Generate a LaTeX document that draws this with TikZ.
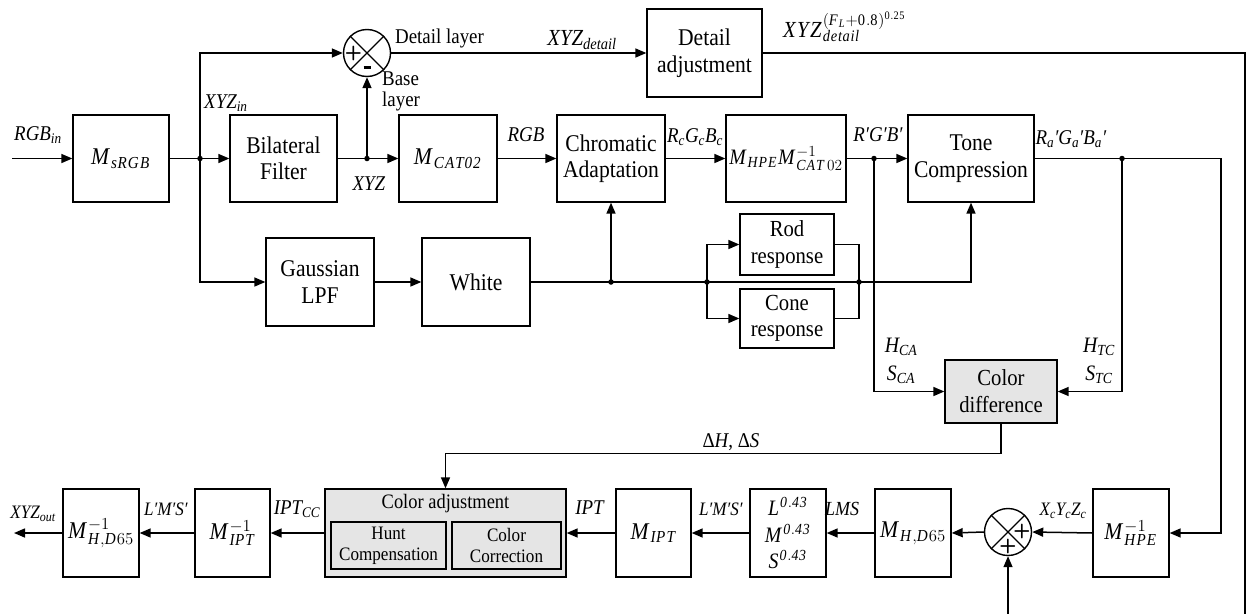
\RequirePackage{fix-cm}
\documentclass[tikz,border=0pt]{standalone}
\usepackage{fontspec}
\setmainfont{Liberation Serif}[FakeStretch=0.9]
\usetikzlibrary{arrows.meta,calc}
\newcommand{\fs}[2]{\fontsize{#1}{#2}\selectfont}
\newcommand{\mi}[1]{\mathit{#1}}
\begin{document}
\begin{tikzpicture}[x=1pt,y=-1pt,
 blk/.style={draw,line width=1.3pt,inner sep=0pt,align=center,font=\fs{24}{26.5}},
 arr/.style={line width=1.5pt,-{Triangle[length=11pt,width=9pt]}},
 ln/.style={line width=1.5pt},
 jdot/.style={circle,fill,inner sep=0pt,minimum size=5.5pt},
 lab/.style={inner sep=0pt,font=\fs{21}{24}},
 sumc/.style={circle,draw,line width=1.4pt,minimum size=47pt,inner sep=0pt},
 sgn/.style={inner sep=0pt,font=\sffamily\bfseries\fs{20}{20}},
]
\useasboundingbox (0,0) rectangle (1246,613);

% ---------- top row ----------
\node[blk,minimum width=96pt,minimum height=87pt] (msrgb) at (121,158.5) {$\mi{M}_{\mi{sRGB}}$};
\node[blk,minimum width=107pt,minimum height=87pt] (bil) at (283.5,158.5) {Bilateral\\Filter};
\node[blk,minimum width=98pt,minimum height=87pt] (mcat) at (448,158.5) {$\mi{M}_{\mi{CAT02}}$};
\node[blk,minimum width=108pt,minimum height=87pt] (chrom) at (611,158.5) {Chromatic\\Adaptation};
\node[blk,minimum width=120pt,minimum height=87pt] (mhpe) at (786,158.5) {\fs{22}{24}$\mi{M}_{\mi{HPE}}\mi{M}^{-1}_{\mi{CAT}\,02}$};
\node[blk,minimum width=126pt,minimum height=87pt] (tone) at (971,158.5) {Tone\\Compression};
\node[blk,minimum width=115pt,minimum height=88pt] (detail) at (704.5,53) {Detail\\adjustment};

\node[sumc] (s1) at (367,53) {};
\draw[line width=1.3pt] (s1.north west) -- (s1.south east) (s1.north east) -- (s1.south west);
\node[sgn] (s1p) at (353.5,53) {+};
\node[inner sep=0pt] (s1m) at (367,67.5) {\rule{7pt}{2.6pt}};

% ---------- middle row ----------
\node[blk,minimum width=108pt,minimum height=88pt] (gauss) at (320,282) {Gaussian\\LPF};
\node[blk,minimum width=108pt,minimum height=88pt] (white) at (476,282) {White};
\node[blk,minimum width=94pt,minimum height=61pt,font=\fs{23}{26.5}] (rod) at (787,244.5) {Rod\\response};
\node[blk,minimum width=94pt,minimum height=59pt,font=\fs{23}{26.5}] (cone) at (787,318.5) {Cone\\response};
\node[blk,minimum width=112pt,minimum height=63pt,fill=black!10,font=\fs{23}{27}] (cdiff) at (1001,391.5) {Color\\difference};

% ---------- bottom row ----------
\node[blk,minimum width=76pt,minimum height=88pt] (hpeinv) at (1131,533) {$\mi{M}^{-1}_{\mi{HPE}}$};
\node[sumc] (s2) at (1008,532) {};
\draw[line width=1.3pt] (s2.north west) -- (s2.south east) (s2.north east) -- (s2.south west);
\node[sgn] (s2p) at (1022,531) {+};
\node[sgn] (s2q) at (1008,546.5) {+};
\node[blk,minimum width=76pt,minimum height=88pt] (mhd) at (913,533) {$\mi{M}_{\mi{H},\mi{D}65}$};
\node[blk,minimum width=76pt,minimum height=88pt,font=\fs{22}{26.5}] (lms) at (788,533) {$\mi{L}^{\mi{0.43}}$\\$\mi{M}^{\mi{0.43}}$\\$\mi{S}^{\mi{0.43}}$};
\node[blk,minimum width=75pt,minimum height=88pt] (mipt) at (653.5,533) {$\mi{M}_{\mi{IPT}}$};
\node[blk,minimum width=241pt,minimum height=88pt,fill=black!10] (cadj) at (445.5,533) {};
\node[inner sep=0pt,font=\fs{20.5}{22}] (cadjt) at (445.5,504) {Color adjustment};
\node[blk,minimum width=115pt,minimum height=47pt,fill=black!10,font=\fs{19}{21}] (hunt) at (388.5,545.5) {Hunt\\Compensation};
\node[blk,minimum width=109pt,minimum height=47pt,fill=black!10,font=\fs{19}{21}] (ccor) at (506.5,545.5) {Color\\Correction};
\node[blk,minimum width=75pt,minimum height=88pt] (miptinv) at (232.5,533) {$\mi{M}^{-1}_{\mi{IPT}}$};
\node[blk,minimum width=76pt,minimum height=88pt] (mhinv) at (101,533) {$\mi{M}^{-1}_{\mi{H},\mi{D}65}$};

% ---------- junctions & free ends ----------
\coordinate (inp) at (12,158.5);
\coordinate (outp) at (14,533);
\node[jdot] (j1) at (200,158.5) {};
\node[jdot] (j2) at (367,158.5) {};
\node[jdot] (j3) at (611,282) {};
\node[jdot] (j4) at (707,282) {};
\node[jdot] (j5) at (859,282) {};
\node[jdot] (j6) at (874,158.5) {};
\node[jdot] (j7) at (1122,158.5) {};
\coordinate (rc) at (1221,158.5);
\coordinate (br) at (1245,622);

% ---------- connectors ----------
\draw[arr] (inp) -- (msrgb.west);
\draw[arr] (msrgb.east) -- (bil.west);
\draw[arr] (j1.center) |- (s1.west);
\draw[arr] (j1.center) |- (gauss.west);
\draw[arr] (bil.east) -- (mcat.west);
\draw[arr] (j2.center) -- (s1.south);
\draw[arr] (mcat.east) -- (chrom.west);
\draw[arr] (chrom.east) -- (mhpe.west);
\draw[arr] (mhpe.east) -- (tone.west);
\draw[arr] (s1.east) -- (detail.west);
\draw[arr] (detail.east) -| (br) -| (s2.south);
\draw[arr] (gauss.east) -- (white.west);
\draw[ln] (white.east) -- (j5.center);
\draw[arr] (j3.center) -- (chrom.south);
\draw[arr] (j4.center) |- (rod.west);
\draw[arr] (j4.center) |- (cone.west);
\draw[ln] (rod.east) -| (j5.center) |- (cone.east);
\draw[arr] (j5.center) -| (tone.south);
\draw[arr] (tone.east) -- (rc) |- (hpeinv.east);
\draw[arr] (j6.center) |- (cdiff.west);
\draw[arr] (j7.center) |- (cdiff.east);
\draw[arr] (cdiff.south) -- ++(0,30) -| (cadj.north);
\draw[arr] (hpeinv.west) -- (s2.east);
\draw[arr] (s2.west) -- (mhd.east);
\draw[arr] (mhd.west) -- (lms.east);
\draw[arr] (lms.west) -- (mipt.east);
\draw[arr] (mipt.west) -- (cadj.east);
\draw[arr] (cadj.west) -- (miptinv.east);
\draw[arr] (miptinv.west) -- (mhinv.east);
\draw[arr] (mhinv.west) -- (outp);

% ---------- labels ----------
\node[lab] (lrgbin) at (38,135) {\textit{RGB\textsubscript{in}}};
\node[lab,anchor=west] (lxyzin) at (204,103) {\textit{XYZ\textsubscript{in}}};
\node[lab] (lxyz) at (369,184) {\textit{XYZ}};
\node[lab,anchor=west] (ldl) at (395,38) {Detail layer};
\node[lab,anchor=west,align=left,font=\fs{21}{21}] (lbl) at (382,91) {Base\\layer};
\node[lab,font=\fs{23}{24}] (lxyzd) at (582,40) {\textit{XYZ\textsubscript{detail}}};
\node[lab,anchor=base west,font=\fs{23}{24}] (lxyzdp) at (783,37) {$\mi{XYZ}^{(\mi{F}_{\mi{L}}+\mathrm{0.8})^{\mathrm{0.25}}}_{\mi{detail}}$};
\node[lab] (lrgb) at (526,135) {\textit{RGB}};
\node[lab] (lrcgcbc) at (695,137) {\textit{R\textsubscript{c}G\textsubscript{c}B\textsubscript{c}}};
\node[lab] (lrpgpbp) at (878,135) {\textit{R′G′B′}};
\node[lab] (lrgba) at (1071,139) {\textit{R\textsubscript{a}′G\textsubscript{a}′B\textsubscript{a}′}};
\node[lab,font=\fs{22}{28},align=center] (lhca) at (901,361) {\textit{H\textsubscript{CA}}\\\textit{S\textsubscript{CA}}};
\node[lab,font=\fs{22}{28},align=center] (lhtc) at (1099,361) {\textit{H\textsubscript{TC}}\\\textit{S\textsubscript{TC}}};
\node[lab] (ldhs) at (731,442) {Δ\textit{H}, Δ\textit{S}};
\node[lab,font=\fs{19}{20}] (lxc) at (1063,511) {\textit{X\textsubscript{c}Y\textsubscript{c}Z\textsubscript{c}}};
\node[lab,font=\fs{20}{20}] (llms) at (842,509) {\textit{LMS}};
\node[lab,font=\fs{19}{20}] (llmsp) at (721,509) {\textit{L′M′S′}};
\node[lab] (lipt) at (590,508) {\textit{IPT}};
\node[lab] (liptcc) at (297,509) {\textit{IPT\textsubscript{CC}}};
\node[lab,font=\fs{19}{20}] (llmsp2) at (166,509) {\textit{L′M′S′}};
\node[lab,font=\fs{19}{20}] (lxyzout) at (33,514) {\textit{XYZ\textsubscript{out}}};
\end{tikzpicture}
\end{document}
